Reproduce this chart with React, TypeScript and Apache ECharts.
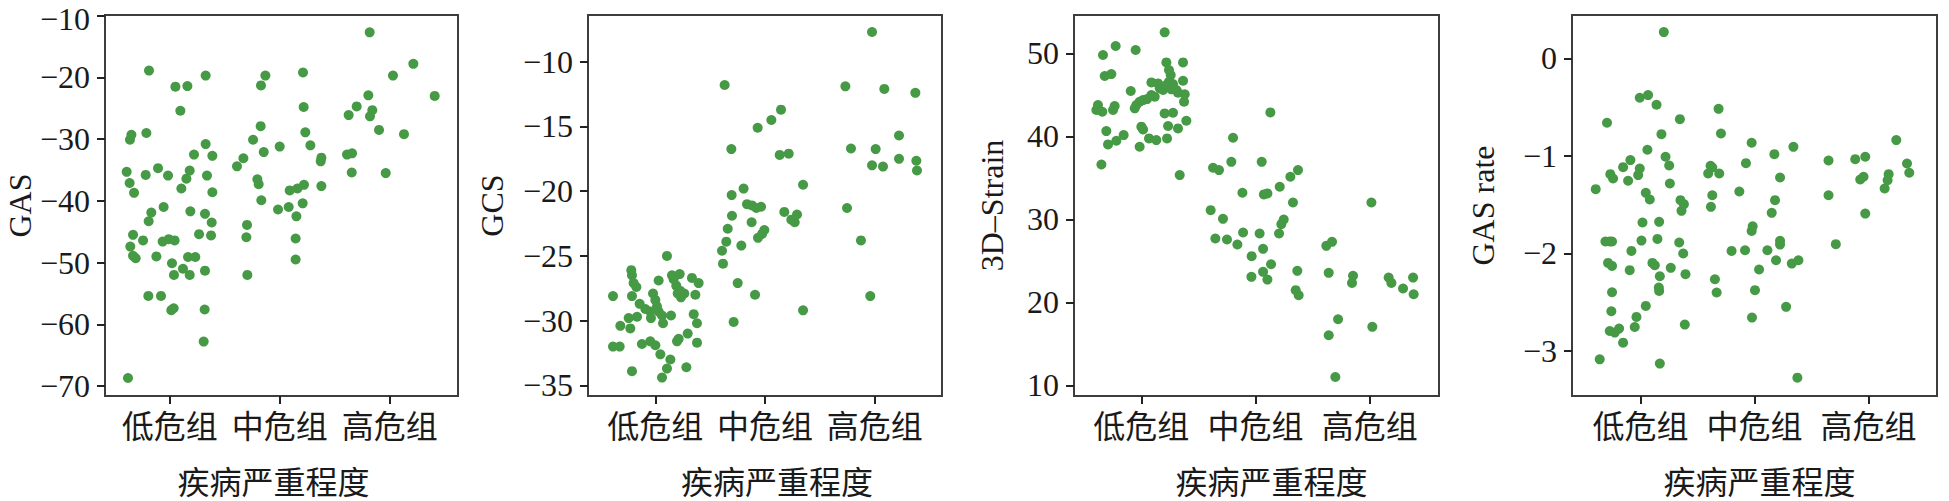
import React, { useEffect, useRef } from 'react';
import * as echarts from 'echarts';

const CATEGORIES = ['低危组', '中危组', '高危组'];
const X_TITLE = '疾病严重程度';
const Y_TITLES = ['GAS', 'GCS', '3D–Strain', 'GAS rate'];

const GAS_TICKS = [-70, -60, -50, -40, -30, -20, -10];
const GCS_TICKS = [-35, -30, -25, -20, -15, -10];
const STRAIN_TICKS = [10, 20, 30, 40, 50];
const RATE_TICKS = [-3, -2, -1, 0];

// [jittered category position, value]
const gasLow = [[-0.379,-68.7],[-0.188,-18.9],[0.052,-21.5],[0.161,-21.4],[0.327,-19.7],[0.097,-25.4],[-0.348,-29.3],[-0.361,-30.1],[-0.212,-29.0],[0.327,-30.8],[0.221,-32.5],[0.388,-32.7],[-0.391,-35.3],[-0.218,-35.8],[-0.106,-34.7],[-0.015,-35.9],[0.182,-35.1],[0.152,-36.4],[0.339,-35.9],[-0.364,-37.1],[-0.324,-38.7],[0.106,-38.0],[0.388,-38.6],[-0.055,-41.0],[-0.167,-41.9],[-0.191,-43.3],[0.188,-41.7],[0.321,-42.1],[0.382,-43.5],[-0.333,-45.5],[-0.242,-46.4],[-0.064,-46.6],[-0.009,-46.2],[0.045,-46.4],[0.267,-45.4],[0.376,-45.6],[-0.358,-47.4],[-0.333,-48.9],[-0.309,-49.3],[-0.121,-49.0],[0.021,-50.1],[0.039,-52.0],[0.121,-51.0],[0.182,-52.0],[0.167,-49.1],[0.233,-49.1],[0.321,-51.3],[-0.194,-55.4],[-0.079,-55.4],[0.015,-57.7],[0.036,-57.4],[0.318,-57.6],[0.309,-62.8]];
const gasMid = [[0.870,-19.7],[0.830,-21.3],[1.212,-19.2],[1.218,-24.8],[0.827,-27.9],[0.758,-30.1],[1.233,-28.9],[1.0,-31.2],[1.279,-31.0],[0.855,-32.1],[0.670,-33.1],[0.612,-34.4],[1.379,-33.0],[1.373,-33.6],[0.797,-36.5],[0.809,-37.3],[1.379,-37.6],[1.221,-37.4],[1.161,-38.0],[1.091,-38.3],[0.833,-39.9],[1.209,-40.4],[0.985,-41.4],[1.082,-41.0],[1.152,-42.5],[0.703,-43.9],[0.697,-45.9],[1.145,-46.1],[1.145,-49.5],[0.706,-52.0]];
const gasHigh = [[1.818,-12.7],[2.215,-17.8],[2.030,-19.7],[2.409,-23.0],[1.806,-22.9],[1.700,-24.7],[1.842,-25.3],[1.821,-26.3],[1.627,-26.1],[1.903,-28.5],[2.130,-29.2],[1.612,-32.5],[1.658,-32.3],[1.655,-35.4],[1.964,-35.5]];

const gcsLow = [[0.106,-25.0],[-0.219,-26.1],[-0.213,-26.5],[-0.198,-27.1],[-0.173,-27.4],[-0.213,-28.1],[-0.143,-28.7],[-0.386,-28.1],[0.030,-26.9],[-0.021,-27.9],[0.0,-28.4],[0.152,-26.5],[0.222,-26.4],[0.191,-27.3],[0.204,-27.9],[0.234,-28.2],[0.264,-27.9],[0.334,-26.7],[0.395,-27.1],[0.365,-28.0],[-0.243,-29.8],[-0.319,-30.4],[-0.228,-30.6],[-0.167,-29.7],[-0.046,-29.3],[-0.040,-29.8],[0.030,-29.3],[0.061,-29.6],[0.070,-30.2],[0.143,-29.6],[0.350,-29.5],[0.380,-30.2],[-0.386,-32.0],[-0.325,-32.0],[-0.122,-31.8],[-0.046,-31.6],[0.0,-31.9],[0.046,-32.6],[0.213,-31.4],[0.198,-31.6],[0.295,-31.0],[0.380,-31.7],[0.137,-33.0],[0.106,-33.7],[-0.213,-33.9],[0.283,-33.6],[0.061,-34.4],[0.167,-26.8],[0.015,-28.9],[0.228,-27.7],[-0.091,-29.1]];
const gcsMid = [[0.632,-11.8],[0.693,-16.75],[0.933,-15.1],[1.058,-14.5],[1.146,-13.7],[1.134,-17.2],[1.216,-17.1],[1.347,-19.5],[0.696,-20.3],[0.805,-19.8],[0.836,-21.0],[0.881,-21.1],[0.921,-21.3],[0.964,-21.2],[0.699,-21.9],[1.176,-21.6],[1.292,-21.8],[1.240,-22.2],[1.271,-22.4],[0.660,-22.9],[0.878,-22.4],[0.994,-23.0],[0.973,-23.3],[0.936,-23.6],[0.647,-23.9],[0.784,-24.2],[0.608,-24.6],[0.617,-25.6],[0.751,-27.1],[0.909,-28.0],[0.714,-30.1],[1.347,-29.2]];
const gcsHigh = [[1.976,-7.7],[1.733,-11.9],[2.088,-12.1],[2.371,-12.4],[2.222,-15.7],[1.784,-16.7],[2.009,-16.75],[1.976,-18.0],[2.076,-18.1],[2.222,-17.5],[2.380,-17.65],[2.386,-18.4],[1.748,-21.3],[1.875,-23.8],[1.960,-28.1]];

const strainLow = [[0.204,52.53],[-0.225,50.88],[-0.336,49.8],[-0.050,50.4],[-0.321,47.27],[-0.263,47.5],[0.219,48.91],[0.365,48.91],[0.242,47.99],[0.257,47.39],[0.088,46.5],[0.365,46.7],[-0.093,45.46],[0.242,46.58],[0.277,46.3],[0.161,45.78],[0.088,44.97],[0.050,44.49],[-0.015,44.17],[-0.058,43.37],[-0.044,43.77],[0.307,45.58],[0.380,45.06],[0.374,44.17],[-0.380,43.77],[-0.394,43.17],[-0.342,42.96],[-0.234,43.65],[-0.248,43.17],[0.204,42.76],[0.277,42.84],[0.394,41.88],[-0.307,40.63],[-0.292,39.03],[-0.219,39.47],[-0.155,40.15],[0.0,41.16],[0.015,40.83],[0.067,39.75],[0.131,39.55],[0.225,39.75],[0.234,41.24],[0.321,40.95],[-0.015,38.74],[-0.350,36.61],[0.336,35.33],[0.219,46.18],[0.321,45.26],[0.263,45.66],[0.117,44.77],[0.015,44.37],[0.190,45.58],[0.146,46.38]];
const strainMid = [[1.130,42.88],[0.803,39.83],[0.628,36.21],[0.680,35.93],[0.788,36.93],[1.054,36.93],[1.372,35.93],[1.305,35.13],[1.212,33.92],[0.885,33.2],[1.073,33.0],[1.104,33.12],[1.328,32.03],[0.607,31.1],[0.715,30.06],[1.247,29.98],[1.226,29.42],[1.206,28.29],[0.891,28.41],[1.036,28.29],[0.648,27.69],[0.750,27.57],[0.841,26.97],[1.066,26.44],[0.966,25.56],[1.136,24.59],[1.066,23.67],[1.104,22.74],[0.964,23.07],[1.366,23.79],[1.352,21.46],[1.378,20.85]];
const strainHigh = [[2.015,32.03],[1.620,26.8],[1.670,27.29],[1.641,23.55],[1.854,23.19],[1.845,22.34],[2.166,22.98],[2.190,22.34],[2.292,21.66],[2.380,22.98],[2.385,20.97],[1.723,17.96],[2.023,17.04],[1.641,16.03],[1.699,11.0]];

const rateLow = [[0.205,0.270],[-0.293,-0.660],[-0.006,-0.404],[0.067,-0.376],[0.141,-0.475],[0.346,-0.623],[0.184,-0.777],[0.061,-0.937],[0.220,-1.009],[0.252,-1.098],[-0.088,-1.043],[-0.152,-1.115],[-0.006,-1.129],[-0.020,-1.197],[-0.264,-1.187],[-0.240,-1.232],[-0.108,-1.255],[0.258,-1.283],[-0.392,-1.341],[0.047,-1.379],[0.082,-1.447],[0.351,-1.454],[0.381,-1.495],[0.360,-1.563],[0.018,-1.683],[0.164,-1.676],[-0.307,-1.878],[-0.269,-1.878],[-0.249,-1.878],[0.009,-1.868],[0.149,-1.851],[0.340,-1.888],[-0.079,-1.974],[0.375,-2.001],[-0.284,-2.097],[-0.249,-2.128],[-0.094,-2.172],[0.105,-2.097],[0.126,-2.121],[0.266,-2.148],[0.395,-2.213],[0.170,-2.234],[0.161,-2.350],[0.164,-2.384],[-0.249,-2.398],[0.047,-2.538],[-0.255,-2.593],[-0.035,-2.651],[-0.050,-2.754],[0.389,-2.730],[-0.269,-2.795],[-0.225,-2.812],[-0.187,-2.771],[-0.152,-2.915],[-0.357,-3.086],[0.170,-3.130]];
const rateMid = [[0.685,-0.517],[0.706,-0.770],[0.975,-0.865],[1.341,-0.907],[1.174,-0.982],[0.925,-1.074],[0.615,-1.101],[0.630,-1.119],[0.594,-1.180],[0.691,-1.180],[1.224,-1.221],[0.867,-1.365],[0.630,-1.403],[1.180,-1.454],[0.618,-1.522],[1.151,-1.584],[0.984,-1.721],[0.975,-1.769],[1.224,-1.871],[1.224,-1.909],[0.799,-1.974],[0.917,-1.967],[1.113,-1.967],[1.189,-2.070],[1.327,-2.104],[1.385,-2.070],[1.040,-2.165],[0.653,-2.265],[0.668,-2.401],[1.004,-2.377],[1.277,-2.548],[0.978,-2.658],[1.376,-3.274]];
const rateHigh = [[2.243,-0.838],[1.649,-1.047],[1.883,-1.033],[1.971,-1.009],[2.337,-1.078],[2.357,-1.173],[2.176,-1.187],[2.167,-1.249],[1.927,-1.242],[1.956,-1.214],[2.141,-1.334],[1.649,-1.403],[1.971,-1.591],[1.713,-1.905]];

const FONT = "'Liberation Serif', 'Noto Sans CJK SC', serif";
const TEXT_COLOR = '#1a1a1a';
const DOT_COLOR = '#469a45';
const FRAME_COLOR = '#3d3d3d';

const PANELS = [
  { title: Y_TITLES[0], groups: [gasLow, gasMid, gasHigh], ticks: GAS_TICKS, xMin: -0.588, xMax: 2.621, yMin: -71.61, yMax: -9.89, left: 105, width: 353, nameGap: 69, titleShift: -8 },
  { title: Y_TITLES[1], groups: [gcsLow, gcsMid, gcsHigh], ticks: GCS_TICKS, xMin: -0.614, xMax: 2.614, yMin: -35.82, yMax: -6.39, left: 588, width: 354, nameGap: 80, titleShift: 12 },
  { title: Y_TITLES[2], groups: [strainLow, strainMid, strainHigh], ticks: STRAIN_TICKS, xMin: -0.59, xMax: 2.607, yMin: 8.71, yMax: 54.62, left: 1074, width: 365, nameGap: 66, titleShift: 15 },
  { title: Y_TITLES[3], groups: [rateLow, rateMid, rateHigh], ticks: RATE_TICKS, xMin: -0.6, xMax: 2.6, yMin: -3.462, yMax: 0.445, left: 1572, width: 365, nameGap: 73, titleShift: 5 },
];

const fmtNum = (v: number) => (v < 0 ? '−' + String(Math.abs(v)) : String(v));

export default function App() {
  const ref = useRef<HTMLDivElement>(null);
  useEffect(() => {
    if (!ref.current) return;
    const chart = echarts.init(ref.current, undefined, { renderer: 'svg' });
    const textStyle = { fontFamily: FONT, fontSize: 32, color: TEXT_COLOR };
    const option: any = {
      animation: false,
      backgroundColor: '#ffffff',
      grid: PANELS.map((p) => ({
        left: p.left, top: 15, width: p.width, height: 381,
        show: true, borderColor: FRAME_COLOR, borderWidth: 2,
        containLabel: false, outerBoundsMode: 'none',
      })),
      xAxis: PANELS.map((p, i) => ({
        type: 'value', gridIndex: i, min: p.xMin, max: p.xMax,
        axisLine: { show: true, onZero: false, lineStyle: { color: FRAME_COLOR, width: 2 } },
        axisTick: { show: true, length: 8, customValues: [0, 1, 2], lineStyle: { color: '#222', width: 2 } },
        axisLabel: { show: true, customValues: [0, 1, 2], formatter: (v: number) => CATEGORIES[Math.round(v)] ?? '', margin: 15, ...textStyle },
        splitLine: { show: false },
        name: X_TITLE, nameLocation: 'middle', nameGap: 71,
        nameTextStyle: {
          ...textStyle,
          padding: p.titleShift >= 0 ? [0, 0, 0, 2 * p.titleShift] : [0, -2 * p.titleShift, 0, 0],
        },
      })),
      yAxis: PANELS.map((p, i) => {
        const nearTop = (v: number) => (p.yMax - v) / (p.yMax - p.yMin) * 381 + 15 < 19;
        return {
          type: 'value', gridIndex: i, min: p.yMin, max: p.yMax,
          axisLine: { show: true, onZero: false, lineStyle: { color: FRAME_COLOR, width: 2 } },
          axisTick: { show: true, length: 8, customValues: p.ticks, lineStyle: { color: '#222', width: 2 } },
          axisLabel: {
            show: true, customValues: p.ticks,
            formatter: (v: number) => (nearTop(v) ? '{t|' + fmtNum(v) + '}' : fmtNum(v)),
            margin: 15, ...textStyle, lineHeight: 26,
            rich: { t: { ...textStyle, lineHeight: 26, padding: [6, 0, 0, 0] } },
          },
          splitLine: { show: false },
          name: p.title, nameLocation: 'middle', nameGap: p.nameGap,
          nameTextStyle: { ...textStyle },
        };
      }),
      series: PANELS.map((p, i) => ({
        type: 'scatter', xAxisIndex: i, yAxisIndex: i,
        data: [...p.groups[0], ...p.groups[1], ...p.groups[2]],
        symbol: 'circle', symbolSize: 10,
        itemStyle: { color: DOT_COLOR, opacity: 1 },
        silent: true,
      })),
    };
    chart.setOption(option);
    return () => chart.dispose();
  }, []);
  return <div ref={ref} style={{ position: 'absolute', left: 0, top: 0, width: 1949, height: 501 }} />;
}
